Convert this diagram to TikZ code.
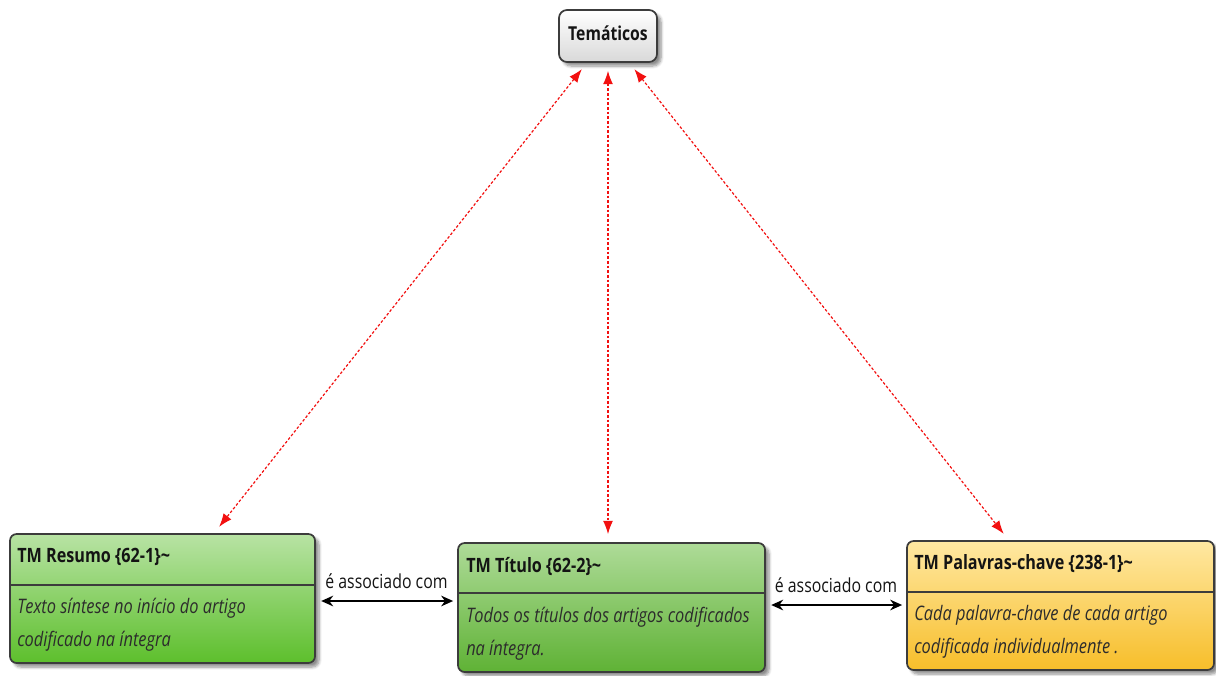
\documentclass[tikz,border=0pt]{standalone}
\usepackage{fontspec}
\setmainfont{Open Sans}[FakeStretch=0.82]
\usetikzlibrary{fit,shadows.blur,arrows.meta}

\definecolor{inkdark}{HTML}{141414}
\definecolor{framegray}{HTML}{3C3C3C}
\definecolor{greentop}{HTML}{B8E3A4}
\definecolor{greenbot}{HTML}{5DBF2C}
\definecolor{green2top}{HTML}{AEDB98}
\definecolor{green2bot}{HTML}{5FB235}
\definecolor{yellowtop}{HTML}{FFE8A2}
\definecolor{yellowbot}{HTML}{F7BE2A}
\definecolor{linkred}{HTML}{F21010}

\tikzset{
  cardbox/.style={draw=framegray, line width=1.3pt, rounded corners=5pt,
    inner sep=0pt,
    blur shadow={shadow xshift=3pt, shadow yshift=-3pt, shadow blur steps=6, shadow opacity=45}},
  greencard/.style={cardbox, top color=greentop, bottom color=greenbot},
  greencardb/.style={cardbox, top color=green2top, bottom color=green2bot},
  yellowcard/.style={cardbox, top color=yellowtop, bottom color=yellowbot},
  topicbox/.style={cardbox, top color=white, bottom color=black!15, rounded corners=6pt},
  divider/.style={draw=framegray, line width=1pt},
  headtext/.style={anchor=west, inner sep=0pt, text=inkdark, font=\fontsize{14.8}{17}\selectfont\bfseries},
  bodytext/.style={anchor=north west, inner sep=0pt, align=left, text=inkdark!90,
    font=\fontsize{15}{24.8}\selectfont\itshape},
  linklabel/.style={inner sep=1pt, text=inkdark, font=\fontsize{14.5}{16}\selectfont},
  redlink/.style={draw=linkred, line width=0.9pt, dash pattern=on 2pt off 1.5pt,
    {Latex[length=10pt,width=7.5pt]}-{Latex[length=10pt,width=7.5pt]}, shorten <=6pt, shorten >=6pt},
  assoc/.style={draw=black, line width=1.2pt,
    {Stealth[length=9pt,width=8pt]}-{Stealth[length=9pt,width=8pt]}, shorten <=4pt, shorten >=3pt}
}

\begin{document}
\begin{tikzpicture}[x=0.75pt, y=-0.75pt]
  \useasboundingbox (0,0) rectangle (1216,675);

  % corner points of the cards
  \coordinate (temA) at (559,10);   \coordinate (temB) at (657,62);
  \coordinate (resA) at (10,534);   \coordinate (resB) at (315,663);
  \coordinate (titA) at (458,543);  \coordinate (titB) at (765,672);
  \coordinate (palA) at (907,541);  \coordinate (palB) at (1214,670);

  % topic node
  \node[topicbox, fit=(temA)(temB)] (tem) {};
  \node[inner sep=0pt, text=inkdark, font=\fontsize{14.4}{16}\selectfont\bfseries] (temlabel) at ([yshift=2pt]tem.center) {Temáticos};

  % Resumo card
  \node[greencard, fit=(resA)(resB)] (resumo) {};
  \draw[divider] (resumo.west |- 0,585) -- (resumo.east |- 0,585);
  \node[headtext] (reshead) at (17,557) {TM Resumo \{62-1\}\textasciitilde};
  \node[bodytext] (resbody) at (17,598) {Texto síntese no início do artigo\\codificado na íntegra};

  % Título card
  \node[greencardb, fit=(titA)(titB)] (titulo) {};
  \draw[divider] (titulo.west |- 0,593) -- (titulo.east |- 0,593);
  \node[headtext] (tithead) at (466,566) {TM Título \{62-2\}\textasciitilde};
  \node[bodytext] (titbody) at (466,607) {Todos os títulos dos artigos codificados\\na íntegra.};

  % Palavras-chave card
  \node[yellowcard, fit=(palA)(palB)] (palavras) {};
  \draw[divider] (palavras.west |- 0,592) -- (palavras.east |- 0,592);
  \node[headtext] (palhead) at (914,564) {TM Palavras-chave \{238-1\}\textasciitilde};
  \node[bodytext] (palbody) at (914,605) {Cada palavra-chave de cada artigo\\codificada individualmente .};

  % links to the topic
  \draw[redlink] (tem) -- (resumo);
  \draw[redlink] (tem) -- (titulo.north -| tem.south);
  \draw[redlink] (tem) -- (palavras);

  % associations between the cards
  \draw[assoc] (resumo.east |- 0,601) -- node[linklabel, above=8pt] (assocA) {é associado com} (titulo.west |- 0,601);
  \draw[assoc] (titulo.east |- 0,605) -- node[linklabel, above=8pt] (assocB) {é associado com} (palavras.west |- 0,605);
\end{tikzpicture}
\end{document}
